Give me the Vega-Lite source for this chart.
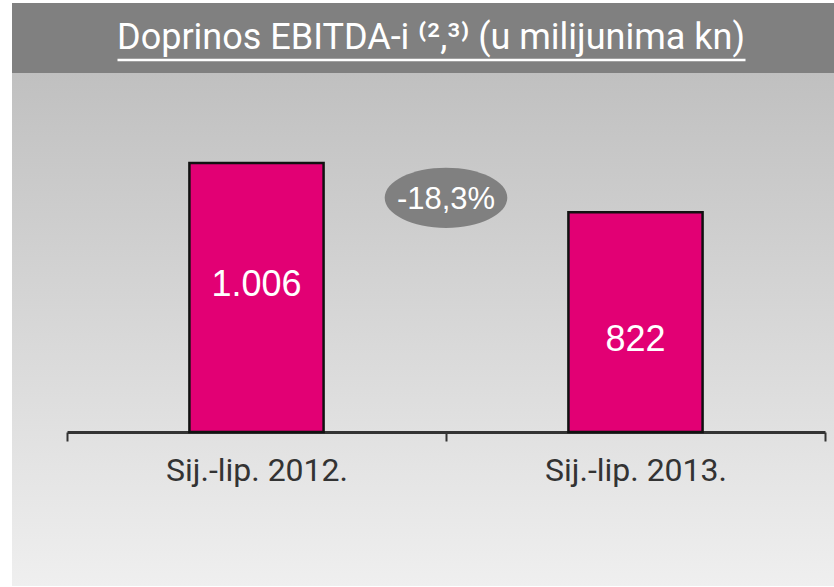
{
  "$schema": "https://vega.github.io/schema/vega-lite/v6.json",
  "background": "white",
  "padding": {"left": 12, "top": 3, "right": 0, "bottom": 0},
  "spacing": 0,
  "config": {"view": {"stroke": null}, "concat": {"spacing": 0}},
  "vconcat": [
    {
      "width": 822,
      "height": 70,
      "view": {"fill": "#808080", "stroke": null},
      "data": {"values": [{"title": "Doprinos EBITDA-i \u207d\u00b2,\u00b3\u207e (u milijunima kn)"}]},
      "mark": {"type": "text", "font": "Roboto", "fontSize": 36, "color": "white", "baseline": "middle", "align": "center", "dy": 0},
      "encoding": {
        "x": {"field": "title", "type": "nominal",
              "scale": {"paddingInner": 0, "paddingOuter": 0, "range": [105, 733]},
              "axis": {"title": null, "orient": "bottom", "offset": -13.5, "labels": false, "ticks": false,
                       "domainColor": "white", "domainWidth": 2.5, "grid": false}},
        "text": {"field": "title"}
      }
    },
    {
      "width": 822,
      "height": 513,
      "view": {
        "stroke": null,
        "fill": {"gradient": "linear", "x1": 0, "y1": 0, "x2": 0, "y2": 1,
                 "stops": [{"offset": 0, "color": "#c0c0c0"}, {"offset": 1, "color": "#efefef"}]}
      },
      "resolve": {"scale": {"y": "independent"}},
      "layer": [
        {
          "data": {"values": [
            {"period": "Sij.-lip. 2012.", "value": 1006, "label": "1.006"},
            {"period": "Sij.-lip. 2013.", "value": 822, "label": "822"}
          ]},
          "mark": {"type": "bar", "color": "#e20074", "stroke": "#111111", "strokeWidth": 2.5, "width": {"band": 0.354}},
          "encoding": {
            "x": {"field": "period", "type": "nominal", "sort": null,
                  "scale": {"paddingInner": 0, "paddingOuter": 0, "range": [55, 813]},
                  "axis": {"title": null, "orient": "bottom", "offset": -154, "tickBand": "extent",
                           "domainColor": "#333333", "domainWidth": 3, "tickColor": "#333333", "tickWidth": 2, "tickSize": 9,
                           "labelFont": "Roboto", "labelFontSize": 32, "labelColor": "#333333", "labelLimit": 0,
                           "labelPadding": 14, "labelAngle": 0, "grid": false}},
            "y": {"field": "value", "type": "quantitative", "scale": {"domain": [-576, 1343], "nice": false, "zero": false}, "axis": null}
          }
        },
        {
          "data": {"values": [
            {"period": "Sij.-lip. 2012.", "value": 1006, "label": "1.006"},
            {"period": "Sij.-lip. 2013.", "value": 822, "label": "822"}
          ]},
          "mark": {"type": "text", "font": "Liberation Sans", "fontSize": 36, "color": "white", "baseline": "middle"},
          "encoding": {
            "x": {"field": "period", "type": "nominal", "sort": null},
            "y": {"field": "value", "type": "quantitative", "scale": {"domain": [3, 1710], "nice": false, "zero": false}, "axis": null},
            "text": {"field": "label"}
          }
        },
        {
          "data": {"values": [{"from": "Sij.-lip. 2012.", "change": "-18,3%"}]},
          "layer": [
            {
              "mark": {"type": "point", "filled": true, "opacity": 1, "color": "#808080", "size": 15030,
                       "shape": "M-1,0A1,0.49,0,1,1,1,0A1,0.49,0,1,1,-1,0Z"},
              "encoding": {
                "x": {"field": "from", "type": "nominal", "bandPosition": 1},
                "y": {"datum": 876, "type": "quantitative", "scale": {"domain": [-576, 1343], "nice": false, "zero": false}, "axis": null}
              }
            },
            {
              "mark": {"type": "text", "font": "Liberation Sans", "fontSize": 31, "color": "white", "baseline": "middle", "dy": 2},
              "encoding": {
                "x": {"field": "from", "type": "nominal", "bandPosition": 1},
                "y": {"datum": 876, "type": "quantitative", "scale": {"domain": [-576, 1343], "nice": false, "zero": false}, "axis": null},
                "text": {"field": "change"}
              }
            }
          ]
        }
      ]
    }
  ]
}
